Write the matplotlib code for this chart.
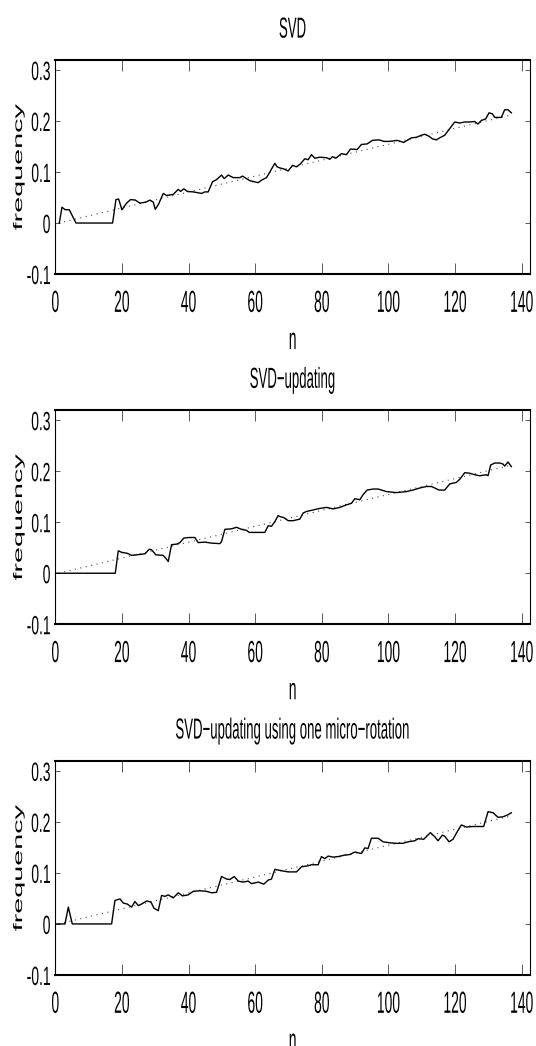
import matplotlib
matplotlib.use('Agg')
import matplotlib.pyplot as plt
import matplotlib.patheffects as pe
from matplotlib.transforms import Affine2D

# --- data ---------------------------------------------------------------
titles = ['SVD', 'SVD\u2212updating', 'SVD\u2212updating using one micro\u2212rotation']

n_svd = [1.2, 2.0, 3.0, 4.2, 6.2, 17.2, 18.2, 19.0, 20.0, 21.4, 22.6, 24.0, 25.4, 27.2,
         28.4, 29.4, 30.0, 31.0, 32.4, 33.4, 35.4, 36.9, 37.6, 38.6, 39.6, 41.4, 43.9,
         44.9, 45.9, 47.2, 48.4, 49.9, 50.7, 51.9, 53.4, 55.4, 56.2, 57.4, 58.4, 60.9,
         61.9, 63.4, 64.4, 65.9, 66.6, 67.4, 68.6, 69.9, 71.2, 72.4, 73.6, 74.9, 75.9,
         76.9, 77.9, 79.4, 81.4, 82.4, 83.2, 84.2, 85.9, 87.4, 88.6, 90.6, 91.9, 93.6,
         95.2, 97.2, 98.6, 100.4, 102.6, 104.6, 106.9, 108.4, 109.9, 110.9, 112.2, 113.2,
         114.4, 115.4, 116.9, 118.4, 119.9, 121.4, 122.9, 124.4, 125.9, 126.9, 127.9,
         129.2, 130.2, 131.2, 131.9, 133.9, 134.9, 135.9, 136.9]
f_svd = [0.0, 0.031, 0.026, 0.026, 0.0, 0.0, 0.046, 0.047, 0.026, 0.039, 0.046, 0.045, 0.039,
         0.041, 0.045, 0.041, 0.027, 0.037, 0.058, 0.054, 0.056, 0.066, 0.062, 0.067, 0.062,
         0.061, 0.058, 0.061, 0.061, 0.081, 0.085, 0.094, 0.087, 0.094, 0.089, 0.089, 0.092,
         0.087, 0.083, 0.079, 0.084, 0.089, 0.100, 0.117, 0.110, 0.108, 0.106, 0.102, 0.113,
         0.110, 0.116, 0.126, 0.124, 0.134, 0.127, 0.129, 0.128, 0.125, 0.130, 0.127, 0.136,
         0.134, 0.145, 0.144, 0.154, 0.155, 0.162, 0.163, 0.160, 0.160, 0.162, 0.158, 0.167,
         0.168, 0.172, 0.174, 0.170, 0.165, 0.163, 0.167, 0.172, 0.185, 0.198, 0.196, 0.198,
         0.198, 0.199, 0.194, 0.201, 0.204, 0.216, 0.214, 0.207, 0.207, 0.222, 0.222, 0.216]

n_upd = [0.2, 18.0, 18.9, 19.9, 21.6, 22.9, 24.4, 26.9, 28.2, 28.9, 30.2, 32.4, 33.2, 33.9,
         34.9, 36.4, 37.4, 38.6, 40.2, 41.9, 42.9, 44.9, 46.9, 49.4, 49.9, 50.9, 52.9, 54.4,
         55.9, 57.4, 58.2, 59.9, 62.9, 63.9, 64.9, 65.9, 66.9, 67.4, 68.6, 69.9, 71.4, 73.4,
         74.4, 75.4, 77.4, 79.4, 81.4, 83.4, 85.4, 87.4, 88.9, 89.9, 91.4, 92.4, 93.6, 95.4,
         96.9, 99.4, 102.4, 105.4, 107.4, 109.4, 111.4, 112.9, 113.9, 115.2, 116.9, 118.4,
         120.4, 121.4, 122.9, 124.4, 125.9, 127.4, 129.4, 129.9, 130.7, 131.9, 133.4, 134.4,
         134.9, 135.9, 136.9]
f_upd = [0.0, 0.0, 0.044, 0.041, 0.039, 0.035, 0.036, 0.038, 0.047, 0.046, 0.036, 0.035,
         0.029, 0.023, 0.056, 0.057, 0.060, 0.069, 0.070, 0.070, 0.060, 0.061, 0.059, 0.058,
         0.062, 0.086, 0.087, 0.090, 0.086, 0.084, 0.080, 0.080, 0.080, 0.093, 0.092, 0.101,
         0.113, 0.111, 0.109, 0.103, 0.103, 0.106, 0.118, 0.121, 0.124, 0.127, 0.129, 0.126,
         0.129, 0.134, 0.137, 0.146, 0.144, 0.154, 0.163, 0.165, 0.165, 0.160, 0.158, 0.160,
         0.163, 0.167, 0.170, 0.170, 0.167, 0.163, 0.163, 0.175, 0.178, 0.184, 0.197, 0.196,
         0.193, 0.191, 0.193, 0.191, 0.212, 0.216, 0.216, 0.214, 0.210, 0.218, 0.209]

n_rot = [0.2, 2.9, 3.9, 5.1, 16.9, 17.9, 19.4, 20.4, 21.6, 22.9, 23.9, 24.9, 25.9, 27.4,
         28.7, 29.6, 30.9, 31.9, 32.9, 33.9, 35.4, 36.9, 38.2, 39.9, 41.4, 43.4, 45.4, 46.9,
         48.4, 49.9, 51.4, 52.4, 53.7, 54.9, 56.4, 57.9, 58.9, 60.9, 62.6, 63.9, 64.9, 65.9,
         67.4, 69.9, 72.4, 73.9, 75.9, 76.9, 78.9, 79.9, 80.9, 81.9, 83.4, 84.9, 86.9, 88.4,
         89.9, 91.9, 92.9, 93.9, 94.9, 96.9, 98.4, 100.4, 102.4, 104.4, 105.9, 107.9, 108.9,
         110.6, 112.6, 113.9, 114.9, 116.2, 116.9, 118.2, 119.4, 120.4, 121.9, 123.4, 125.4,
         128.6, 129.9, 131.4, 132.9, 134.4, 135.9, 136.9]
f_rot = [0.0, 0.0, 0.033, 0.0, 0.0, 0.046, 0.049, 0.041, 0.039, 0.033, 0.044, 0.036, 0.039,
         0.045, 0.043, 0.031, 0.026, 0.056, 0.054, 0.057, 0.051, 0.061, 0.055, 0.057, 0.064,
         0.065, 0.064, 0.061, 0.062, 0.093, 0.088, 0.087, 0.093, 0.084, 0.082, 0.084, 0.079,
         0.082, 0.078, 0.086, 0.088, 0.107, 0.105, 0.102, 0.102, 0.112, 0.114, 0.116, 0.116,
         0.132, 0.128, 0.133, 0.131, 0.132, 0.135, 0.136, 0.141, 0.138, 0.149, 0.148, 0.168,
         0.168, 0.161, 0.159, 0.158, 0.158, 0.161, 0.163, 0.167, 0.166, 0.179, 0.171, 0.163,
         0.174, 0.172, 0.161, 0.166, 0.178, 0.194, 0.190, 0.191, 0.191, 0.220, 0.218, 0.209,
         0.210, 0.214, 0.218]

# true (linear) frequency, dotted
ref_n = [1.0, 137.0]
ref_f = [0.0, 0.212]

xticks = [0, 20, 40, 60, 80, 100, 120, 140]
yticks = [-0.1, 0.0, 0.1, 0.2, 0.3]
ytick_labels = ['-0.1', '0', '0.1', '0.2', '0.3']


class Stretch(pe.AbstractPathEffect):
    # the original export is squeezed sideways, glyphs come out tall and thin
    def __init__(self, sx=1.0, sy=1.0):
        super().__init__()
        self.sx = sx
        self.sy = sy

    def draw_path(self, renderer, gc, tpath, affine, rgbFace=None):
        ext = tpath.get_extents()
        cx = (ext.x0 + ext.x1) / 2
        cy = 36  # about half the cap height, glyph units (em = 100)
        t = Affine2D().translate(-cx, -cy).scale(self.sx, self.sy).translate(cx, cy)
        renderer.draw_path(gc, tpath, t + affine, rgbFace)


plt.rcParams['font.family'] = ['Liberation Sans', 'DejaVu Sans']

K = 2.2
AX_LEFT = 0.1032
AX_W = 0.8856
AX_H = 0.2044
AX_BOTTOMS = [0.7380, 0.4032, 0.0679]
AX_PX = AX_H * 1046

fig = plt.figure(figsize=(5.36, 10.46), dpi=100)

series = [(n_svd, f_svd), (n_upd, f_upd), (n_rot, f_rot)]
for i, (nn, ff) in enumerate(series):
    ax = fig.add_axes([AX_LEFT, AX_BOTTOMS[i], AX_W, AX_H])

    ax.plot(ref_n, ref_f, color='0.3', lw=0.8, linestyle=(0, (1, 4)))
    ax.plot(nn, ff, color='k', lw=1.0)

    ax.set_xlim(0, 142.5)
    ax.set_ylim(-0.1, 0.319)
    ax.set_xticks(xticks)
    ax.set_xticklabels([str(v) for v in xticks])
    ax.set_yticks(yticks)
    ax.set_yticklabels(ytick_labels)

    ax.tick_params(axis='x', direction='in', length=8, width=0.6, color='0.25',
                   top=True, pad=15, labelsize=10)
    ax.tick_params(axis='y', direction='in', length=3.3, width=0.6, color='0.25',
                   right=True, pad=3.5, labelsize=10)
    for side in ['top', 'bottom']:
        ax.spines[side].set_linewidth(1.5)
    for side in ['left', 'right']:
        ax.spines[side].set_linewidth(0.8)

    for lab in ax.get_xticklabels():
        lab.set_path_effects([Stretch(sy=K)])
    for lab in ax.get_yticklabels():
        lab.set_path_effects([Stretch(sy=1.9)])

    ax.set_xlabel('n', fontsize=10, va='center')
    ax.xaxis.set_label_coords(0.5, -65 / AX_PX)
    ax.xaxis.label.set_path_effects([Stretch(sy=K)])

    ax.set_ylabel('frequency', fontsize=9, va='center')
    ax.yaxis.set_label_coords(-0.0764, 0.5)
    ax.yaxis.label.set_path_effects([Stretch(sx=2.3)])

    ax.text(0.5, 1 + 28.3 / AX_PX, titles[i], transform=ax.transAxes,
            ha='center', va='baseline', fontsize=9.5,
            path_effects=[Stretch(sy=K)])

fig.savefig('out.png', dpi=100)
